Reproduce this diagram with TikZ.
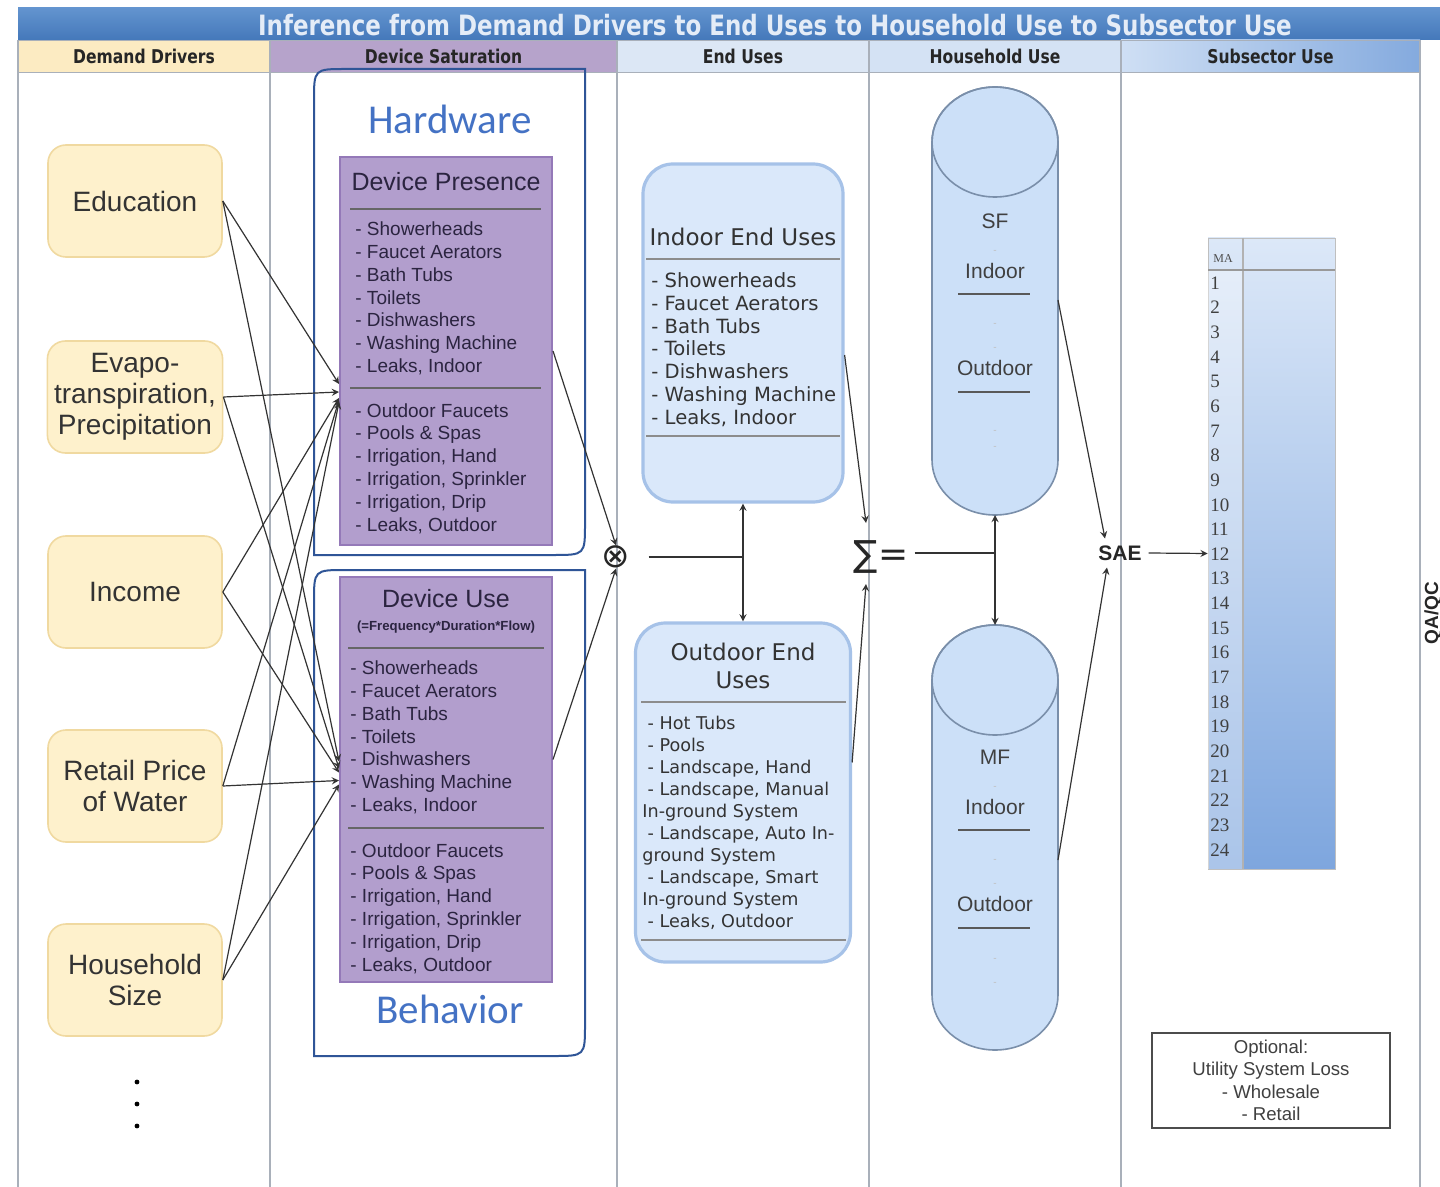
\documentclass[tikz,border=0pt]{standalone}
\usepackage{fontspec}
\setmainfont{Liberation Sans}
\newfontfamily\headfont[FakeStretch=0.82]{DejaVu Sans}
\newfontfamily\verdana{DejaVu Sans}
\newfontfamily\calibri{Carlito}
\newfontfamily\timesfont{Liberation Serif}
\usetikzlibrary{calc}

\definecolor{barblue}{HTML}{4478BA}
\definecolor{barlight}{HTML}{6394CF}
\definecolor{bartext}{HTML}{E4ECF7}
\definecolor{drvhead}{HTML}{FCEBC2}
\definecolor{sathead}{HTML}{B6A3CB}
\definecolor{endhead}{HTML}{DCE7F5}
\definecolor{hhhead}{HTML}{D4E2F4}
\definecolor{subleft}{HTML}{CFDFF4}
\definecolor{subright}{HTML}{84AADE}
\definecolor{gridgray}{HTML}{A9B0BA}
\definecolor{drvfill}{HTML}{FEF1CC}
\definecolor{drvedge}{HTML}{F0D9A0}
\definecolor{devfill}{HTML}{B29ECD}
\definecolor{devedge}{HTML}{9479B8}
\definecolor{devtext}{HTML}{2B2440}
\definecolor{endfill}{HTML}{DAE8FA}
\definecolor{endedge}{HTML}{A6C2E8}
\definecolor{cylfill}{HTML}{CCE0F8}
\definecolor{cyledge}{HTML}{7A8FAA}
\definecolor{frameblue}{HTML}{2F5597}
\definecolor{wordblue}{HTML}{4472C4}
\definecolor{tabtop}{HTML}{DCE8F8}
\definecolor{tabbot}{HTML}{7EA6DE}
\definecolor{linkgray}{HTML}{333333}

\newcommand\outind{\hspace*{2.6pt}}

\begin{document}
\begin{tikzpicture}[x=0.5pt, y=-0.5pt,
  colhead/.style={draw=gridgray, inner sep=0pt, minimum height=16pt, text=black!85, font=\headfont\bfseries\fontsize{9.5}{11}\selectfont},
  driver/.style={draw=drvedge, fill=drvfill, line width=0.8pt, rounded corners=9pt, minimum width=87pt, minimum height=56pt, align=center, text=black!80, font=\fontsize{14}{15.5}\selectfont},
  devbox/.style={draw=devedge, fill=devfill, line width=1pt, minimum width=106pt, inner sep=0pt},
  devtitle/.style={text=devtext, font=\fontsize{12.5}{14}\selectfont},
  devlist/.style={anchor=west, inner sep=0pt, align=left, text=devtext, font=\fontsize{9.5}{11.4}\selectfont},
  divider/.style={draw=black!60, line width=1pt},
  endbox/.style={draw=endedge, fill=endfill, line width=1.6pt, rounded corners=15pt, inner sep=0pt},
  endtitle/.style={align=center, text=black!80, font=\verdana\fontsize{11.5}{14}\selectfont},
  endlist/.style={anchor=west, inner sep=0pt, align=left, text=black!80},
  cyl/.style={fill=cylfill, draw=cyledge, line width=0.8pt},
  cyltext/.style={text=black!75, font=\fontsize{10.5}{12}\selectfont},
  faint/.style={text=black!25, inner sep=0pt, font=\fontsize{5}{6}\selectfont},
  wordlabel/.style={text=wordblue, font=\calibri\fontsize{20.5}{24}\selectfont},
  frame/.style={draw=frameblue, line width=1pt},
  link/.style={-stealth, draw=linkgray, line width=0.6pt},
]
\useasboundingbox (0,0) rectangle (1440,1187);
\fill[white] (0,0) rectangle (1440,1187);

% title bar and column heads
\shade[top color=barlight, bottom color=barblue] (18,8) rectangle (1440,40);
\node[text=bartext, font=\headfont\bfseries\fontsize{14}{16}\selectfont] (title) at (775,25)
  {Inference from Demand Drivers to End Uses to Household Use to Subsector Use};
\node[colhead, fill=drvhead, minimum width=126pt] (hdrv) at (144,56) {Demand Drivers};
\node[colhead, fill=sathead, minimum width=173.5pt] (hsat) at (443.5,56) {Device Saturation};
\node[colhead, fill=endhead, minimum width=126pt] (hend) at (743,56) {End Uses};
\node[colhead, fill=hhhead, minimum width=126pt] (hhh) at (995,56) {Household Use};
\node[colhead, left color=subleft, right color=subright, minimum width=149.5pt] (hsub) at (1270.5,56) {Subsector Use};
\foreach \x in {18,270,617,869,1121,1420}
  \draw[gridgray, line width=0.8pt] (\x,40) -- (\x,1187);

% demand drivers
\node[driver] (edu) at (135,201) {Education};
\node[driver] (evap) at (135,397) {Evapo-\\transpiration,\\Precipitation};
\node[driver] (inc) at (135,592) {Income};
\node[driver] (price) at (135,786) {Retail Price\\of Water};
\node[driver] (hh) at (135,980) {Household\\Size};
\foreach \y in {1082,1104,1126}
  \fill (137,\y) circle [radius=1.2pt];

% hardware / behavior frames
\draw[frame] (314,555) -- (314,101) .. controls (314,69) .. (346,69) -- (585,69) -- (585,523) .. controls (585,555) .. (553,555) -- cycle;
\draw[frame] (314,1056) -- (314,602) .. controls (314,570) .. (346,570) -- (585,570) -- (585,1024) .. controls (585,1056) .. (553,1056) -- cycle;
\node[wordlabel] (hwlabel) at (450,119) {Hardware};
\node[wordlabel] (bhlabel) at (450,1009) {Behavior};

% device presence
\node[devbox, minimum height=194pt] (dp) at (446,351) {};
\node[devtitle] (dptitle) at (446,182) {Device Presence};
\draw[divider] (350,209) -- (541,209);
\draw[divider] (350,388) -- (541,388);
\node[devlist] (dpin) at (355,298.5) {- Showerheads\\- Faucet Aerators\\- Bath Tubs\\- Toilets\\- Dishwashers\\- Washing Machine\\- Leaks, Indoor};
\node[devlist] (dpout) at (355,468.5) {- Outdoor Faucets\\- Pools \& Spas\\- Irrigation, Hand\\- Irrigation, Sprinkler\\- Irrigation, Drip\\- Leaks, Outdoor};

% device use
\node[devbox, minimum height=202.5pt] (du) at (446,779.5) {};
\node[devtitle] (dutitle) at (446,599) {Device Use};
\node[text=devtext, font=\bfseries\fontsize{6.6}{8}\selectfont] (dusub) at (446,627) {(=Frequency*Duration*Flow)};
\draw[divider] (348,648) -- (544,648);
\draw[divider] (348,828) -- (544,828);
\node[devlist] (duin) at (350,737.5) {- Showerheads\\- Faucet Aerators\\- Bath Tubs\\- Toilets\\- Dishwashers\\- Washing Machine\\- Leaks, Indoor};
\node[devlist] (duout) at (350,908.5) {- Outdoor Faucets\\- Pools \& Spas\\- Irrigation, Hand\\- Irrigation, Sprinkler\\- Irrigation, Drip\\- Leaks, Outdoor};

% drivers into device boxes
\foreach \d/\a/\b in {edu/33/-18, evap/41/-11, inc/47/-7, price/49/1, hh/51/5} {
  \draw[link] (\d.east) -- ($(dp.west)+(0,\a)$);
  \draw[link] (\d.east) -- ($(du.west)+(0,\b)$);
}

% product
\node[inner sep=0pt, text=black!85, font=\verdana\fontsize{17}{17}\selectfont] (prod) at (616,557) {⊗};
\draw[link] (dp.east) -- (prod.north);
\draw[link] ($(du.east)+(0,-20)$) -- (prod.south);

% end uses
\node[endbox, minimum width=100pt, minimum height=169pt] (indoor) at (743,333) {};
\node[endtitle] (intitle) at (743,237) {Indoor End Uses};
\draw[divider, draw=black!45] (646,259) -- (840,259);
\draw[divider, draw=black!45] (646,436) -- (840,436);
\node[endlist, font=\verdana\fontsize{9.8}{11.4}\selectfont] (inlist) at (651,349.5) {- Showerheads\\- Faucet Aerators\\- Bath Tubs\\- Toilets\\- Dishwashers\\- Washing Machine\\- Leaks, Indoor};

\node[endbox, minimum width=107.5pt, minimum height=169.5pt] (outdoor) at (743,792.5) {};
\node[endtitle] (outtitle) at (743,666) {Outdoor End\\Uses};
\draw[divider, draw=black!45] (641,702) -- (846,702);
\draw[divider, draw=black!45] (641,940) -- (846,940);
\node[endlist, font=\verdana\fontsize{8.8}{11}\selectfont] (outlist) at (642,823) {\outind- Hot Tubs\\\outind- Pools\\\outind- Landscape, Hand\\\outind- Landscape, Manual\\In-ground System\\\outind- Landscape, Auto In-\\ground System\\\outind- Landscape, Smart\\In-ground System\\\outind- Leaks, Outdoor};

\coordinate (split) at (743,557);
\draw[linkgray, line width=0.6pt] ($(prod.east)+(18,0)$) -- (split);
\draw[link, stealth-stealth] (indoor.south) -- (outdoor.north);

% sum
\node[inner sep=0pt, text=black!85, font=\verdana\fontsize{18}{20}\selectfont] (sum) at (881,557) {∑=};
\coordinate (sumtop) at (866,523);
\coordinate (sumbot) at (866,584);
\draw[link] ($(indoor.east)+(0,22)$) -- (sumtop);
\draw[link] ($(outdoor.east)+(0,-30)$) -- (sumbot);

% household cylinders
\foreach \cy/\tp/\bt in {sf/142/460, mf/680/995} {
  \filldraw[cyl] (932,\tp) -- (932,\bt) arc [start angle=180, end angle=0, x radius=63, y radius=55]
    -- (1058,\tp) arc [start angle=0, end angle=-180, x radius=63, y radius=55] -- cycle;
  \draw[cyl, fill=none] (995,\tp) ellipse [x radius=63, y radius=55];
}
\node[cyltext] (sflabel) at (995,221) {SF};
\node[cyltext] (sfin) at (995,271) {Indoor};
\node[cyltext] (sfout) at (995,368) {Outdoor};
\draw[divider, draw=black!65] (958,294) -- (1030,294);
\draw[divider, draw=black!65] (958,392) -- (1030,392);
\foreach \y in {252,325,349,432,448}
  \node[faint] (sfdot\y) at (995,\y) {-};
\node[cyltext] (mflabel) at (995,757) {MF};
\node[cyltext] (mfin) at (995,807) {Indoor};
\node[cyltext] (mfout) at (995,904) {Outdoor};
\draw[divider, draw=black!65] (958,830) -- (1030,830);
\draw[divider, draw=black!65] (958,928) -- (1030,928);
\foreach \y in {788,861,885,960,984}
  \node[faint] (mfdot\y) at (995,\y) {-};

\coordinate (sfbot) at (995,515);
\coordinate (mftop) at (995,625);
\coordinate (sfright) at (1058,300);
\coordinate (mfright) at (1058,860);
\coordinate (hsplit) at (995,553);
\draw[linkgray, line width=0.6pt] ($(sum.east)+(6,-4)$) -- (hsplit);
\draw[link, stealth-stealth] (sfbot) -- (mftop);

% subsector
\node[text=black!85, font=\bfseries\fontsize{10.5}{12}\selectfont] (sae) at (1120,553) {SAE};
\draw[link] (sfright) -- ($(sae.north)+(-15,0)$);
\draw[link] (mfright) -- ($(sae.south)+(-13,0)$);

\node[draw=black!25, top color=tabtop, bottom color=tabbot, minimum width=63.5pt, minimum height=315.5pt, inner sep=0pt] (tab) at (1271.5,553.5) {};
\fill[white, opacity=0.35] (1208,270) rectangle (1243,869);
\draw[black!30, line width=0.6pt] (1243,238) -- (1243,869);
\draw[black!40, line width=0.6pt] (1208,270) -- (1335,270);
\node[text=black!70, font=\timesfont\fontsize{6}{7}\selectfont] (mahead) at (1223,259) {MA};
\foreach \i in {1,...,24}
  \node[anchor=west, inner sep=0pt, text=black!75, font=\timesfont\fontsize{9.5}{10}\selectfont] (ma\i) at (1210,{283+(\i-1)*24.65}) {\i};
\draw[link] (sae.east) -- (tab.west);

\node[draw=black!70, line width=0.8pt, minimum width=119pt, minimum height=47.5pt, align=center, text=black!75, font=\fontsize{9.3}{11.2}\selectfont] (opt) at (1271,1080.5) {Optional:\\Utility System Loss\\- Wholesale\\- Retail};

\node[rotate=90, anchor=north, inner sep=0pt, text=black!85, font=\bfseries\fontsize{9.5}{12}\selectfont] (qaqc) at (1424,613) {QA/QC};
\end{tikzpicture}
\end{document}
